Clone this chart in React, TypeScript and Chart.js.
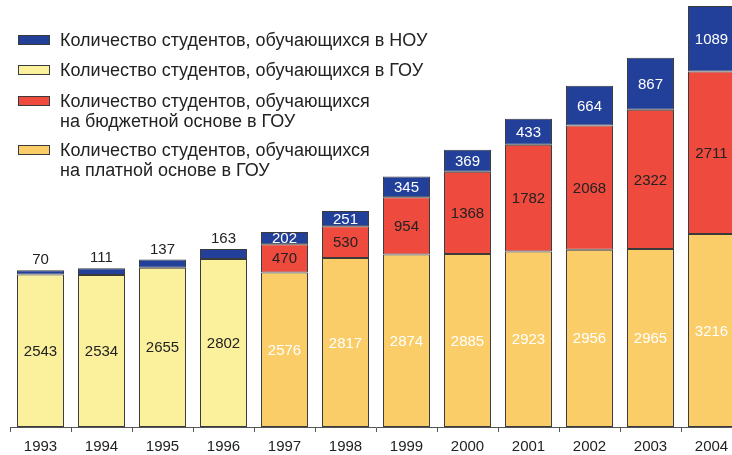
import React, { useEffect, useRef } from "react";
import Chart from "chart.js/auto";

const years = ["1993", "1994", "1995", "1996", "1997", "1998", "1999", "2000", "2001", "2002", "2003", "2004"];
const nouStudents = [70, 111, 137, 163, 202, 251, 345, 369, 433, 664, 867, 1089];
const gouStudents = [2543, 2534, 2655, 2802, null, null, null, null, null, null, null, null];
const gouBudget = [null, null, null, null, 470, 530, 954, 1368, 1782, 2068, 2322, 2711];
const gouPaid = [null, null, null, null, 2576, 2817, 2874, 2885, 2923, 2956, 2965, 3216];

const legendLabels = [
  ["Количество студентов, обучающихся в НОУ"],
  ["Количество студентов, обучающихся в ГОУ"],
  ["Количество студентов, обучающихся", "на бюджетной основе в ГОУ"],
  ["Количество студентов, обучающихся", "на платной основе в ГОУ"],
];

const BLUE = "#22409a";
const YELLOW = "#fbf09c";
const RED = "#ee4a3d";
const ORANGE = "#fbcd69";
const BORDER = "#3a3a3a";
const FONT = "'Liberation Sans', Arial, Helvetica, sans-serif";

export default function App() {
  const ref = useRef<HTMLCanvasElement>(null);
  useEffect(() => {
    const canvas = ref.current!;
    const labelPlugin = {
      id: "labels",
      afterDatasetsDraw(chart: any) {
        const ctx = chart.ctx;
        ctx.save();
        ctx.font = `15px ${FONT}`;
        ctx.textAlign = "center";
        ctx.textBaseline = "middle";
        chart.data.datasets.forEach((ds: any, di: number) => {
          const meta = chart.getDatasetMeta(di);
          meta.data.forEach((bar: any, i: number) => {
            const v = ds.data[i];
            if (v === null || v === undefined) return;
            const top = bar.y;
            const bottom = bar.base;
            let y = (top + bottom) / 2;
            let color = ds.labelColor;
            if (ds.key === "nou" && gouStudents[i] !== null) {
              y = top - 11;
              color = "#222";
            }
            ctx.fillStyle = color;
            ctx.fillText(String(v), bar.x, y + 1);
          });
        });
        ctx.restore();
      },
      afterDraw(chart: any) {
        const ctx = chart.ctx;
        ctx.save();
        ctx.font = `18px ${FONT}`;
        ctx.textBaseline = "middle";
        ctx.textAlign = "left";
        const colors = [BLUE, YELLOW, RED, ORANGE];
        const ys = [40, 70, 101, 150];
        legendLabels.forEach((lines, k) => {
          const y = ys[k];
          ctx.fillStyle = colors[k];
          ctx.fillRect(18, y - 5, 32, 10);
          ctx.strokeStyle = BORDER;
          ctx.lineWidth = 1;
          ctx.strokeRect(18.5, y - 4.5, 31, 9);
          ctx.fillStyle = "#222";
          lines.forEach((t, li) => {
            ctx.fillText(t, 60, y + 1 + li * 20);
          });
        });
        ctx.restore();
      },
    };
    const chart = new Chart(canvas, {
      type: "bar",
      data: {
        labels: years,
        datasets: [
          { key: "gou", label: "ГОУ", data: gouStudents, backgroundColor: YELLOW, labelColor: "#222" } as any,
          { key: "paid", label: "платная", data: gouPaid, backgroundColor: ORANGE, labelColor: "#ffffff" } as any,
          { key: "budget", label: "бюджет", data: gouBudget, backgroundColor: RED, labelColor: "#222" } as any,
          { key: "nou", label: "НОУ", data: nouStudents, backgroundColor: BLUE, labelColor: "#ffffff" } as any,
        ].map((d: any) => ({
          ...d,
          borderColor: BORDER,
          borderWidth: 1,
          borderSkipped: false,
          barPercentage: 0.77,
          categoryPercentage: 1,
        })),
      },
      options: {
        responsive: false,
        animation: false,
        devicePixelRatio: 1,
        layout: { padding: { left: 10, right: 18, top: 1, bottom: 0 } },
        plugins: { legend: { display: false }, tooltip: { enabled: false } },
        scales: {
          x: {
            stacked: true,
            offset: true,
            grid: { display: true, drawOnChartArea: false, offset: true, tickLength: 5, color: "#555" },
            border: { display: true, color: "#555", width: 1 },
            ticks: { color: "#222", font: { size: 15, family: FONT }, padding: 6, maxRotation: 0 },
            afterFit: (scale: any) => {
              scale.height = 28;
            },
          },
          y: {
            stacked: true,
            display: false,
            min: 0,
            max: 7100,
          },
        },
      },
      plugins: [labelPlugin],
    });
    return () => chart.destroy();
  }, []);
  return (
    <div style={{ position: "fixed", left: 0, top: 0, width: 732, height: 455, overflow: "hidden", background: "#fff" }}>
      <canvas ref={ref} width={760} height={455} style={{ display: "block", width: 760, height: 455 }} />
    </div>
  );
}
